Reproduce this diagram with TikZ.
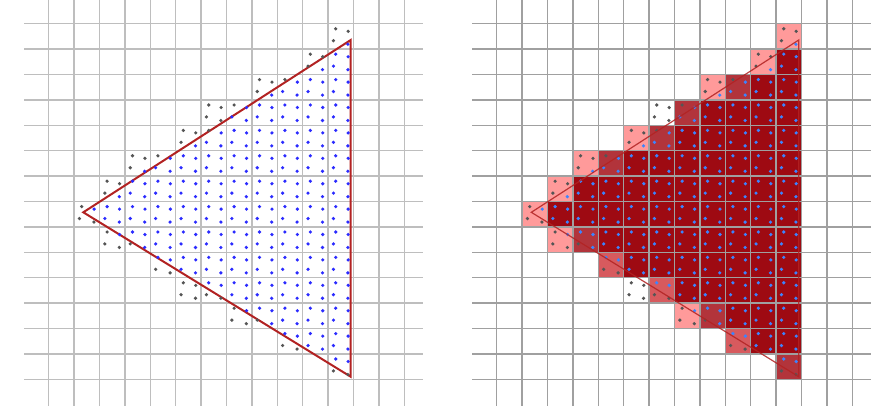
\documentclass[tikz,border=0pt]{standalone}
\definecolor{gridlight}{HTML}{BEBEBE}
\definecolor{griddark}{HTML}{A0A0A0}
\definecolor{edgered}{HTML}{B22222}
\definecolor{hitblue}{HTML}{2B2BFF}
\definecolor{hitazure}{HTML}{3C84FF}
\definecolor{missgray}{HTML}{555555}
\definecolor{cov0}{HTML}{FFFFFF}
\definecolor{cov1}{HTML}{FF9A9A}
\definecolor{cov2}{HTML}{D75A5E}
\definecolor{cov3}{HTML}{B2343B}
\definecolor{cov4}{HTML}{9E0A12}
\tikzset{
	gridline/.style = {line width=1.15pt},% pixel grid
	sample hit/.style = {fill=hitblue},% sample inside the triangle
	sample miss/.style = {fill=missgray},% sample outside
	tri edge/.style = {draw=edgered, line width=1.5pt, line join=miter}
}
% cells cut by an edge: row/col/A/B/C/D (1 = sample covered)
\newcommand\edgecells{0/11/0/0/0/1, 1/10/0/0/0/1, 2/8/0/0/0/1, 2/9/0/1/1/1,
	3/6/0/0/0/0, 3/7/0/1/1/1, 4/5/0/0/0/1, 4/6/0/1/1/1, 5/3/0/0/0/1,
	5/4/0/1/1/1, 6/2/0/0/0/1, 7/1/0/1/0/0, 8/2/0/1/0/0, 8/3/1/1/0/1,
	9/4/1/1/0/0, 10/5/0/0/0/0, 10/6/1/1/0/0, 11/7/0/1/0/0, 11/8/1/1/0/1,
	12/9/1/1/0/0, 13/11/1/1/0/0}
% row/first fully covered column (up to column 11)
\newcommand\fullrows{1/11, 2/10, 3/8, 4/7, 5/5, 6/3, 7/2, 8/4, 9/5, 10/7,
	11/9, 12/10}
\newcommand\pixsamples[6]{% col, row, A, B, C, D
	\foreach \sx/\sy/\sm in {0.3/0.2/#3, 0.79/0.3/#4, 0.21/0.67/#5, 0.78/0.81/#6}{
		\ifnum\sm=1 \fill[sample hit] (#1+\sx,#2+\sy) circle (1.35pt);
		\else \fill[sample miss] (#1+\sx,#2+\sy) circle (1.35pt);\fi}}
\begin{document}
\begin{tikzpicture}[x=19.05pt, y=-19.05pt]
	\useasboundingbox (-1.917,-0.933) rectangle (33.358,15.051);
	% left: samples only
	\begin{scope}
		\foreach \i in {0,...,14}{
			\draw[gridline, gridlight] (\i,-0.933) -- (\i,15.051);
			\draw[gridline, gridlight] (-0.972,\i) -- (14.75,\i);}
		\coordinate (lv) at (1.362,7.425);
		\coordinate (tv) at (11.89,0.642);
		\coordinate (bv) at (11.89,13.898);
		\draw[tri edge] (lv) -- (tv) -- (bv) -- cycle;
		\foreach \row/\col/\mA/\mB/\mC/\mD in \edgecells
			{\pixsamples{\col}{\row}{\mA}{\mB}{\mC}{\mD}}
		\foreach \row/\first in \fullrows
			{\foreach \col in {\first,...,11} {\pixsamples{\col}{\row}1111}}
	\end{scope}
	% right: coverage per pixel
	\begin{scope}[shift={(17.638,0)}, sample hit/.style={fill=hitazure}]
		\foreach \row/\col/\mA/\mB/\mC/\mD in \edgecells{
			\pgfmathtruncatemacro\lvl{\mA+\mB+\mC+\mD}
			\fill[fill=cov\lvl] (\col,\row) rectangle +(1,1);}
		\fill[cov3] (11,13) rectangle +(1,1);% corner pixel
		\foreach \row/\first in \fullrows
			{\fill[cov4] (\first,\row) rectangle (12,\row+1);}
		\foreach \i in {0,...,14}{
			\draw[gridline, griddark] (\i,-0.933) -- (\i,15.051);
			\draw[gridline, griddark] (-0.972,\i) -- (14.75,\i);}
		\foreach \row/\col/\mA/\mB/\mC/\mD in \edgecells
			{\pixsamples{\col}{\row}{\mA}{\mB}{\mC}{\mD}}
		\foreach \row/\first in \fullrows
			{\foreach \col in {\first,...,11} {\pixsamples{\col}{\row}1111}}
		\coordinate (lv') at (1.362,7.425);
		\coordinate (tv') at (11.89,0.642);
		\coordinate (bv') at (11.89,13.898);
		\draw[tri edge, line width=0.9pt, draw opacity=0.85] (lv') -- (tv') -- (bv') -- cycle;
	\end{scope}
\end{tikzpicture}
\end{document}
